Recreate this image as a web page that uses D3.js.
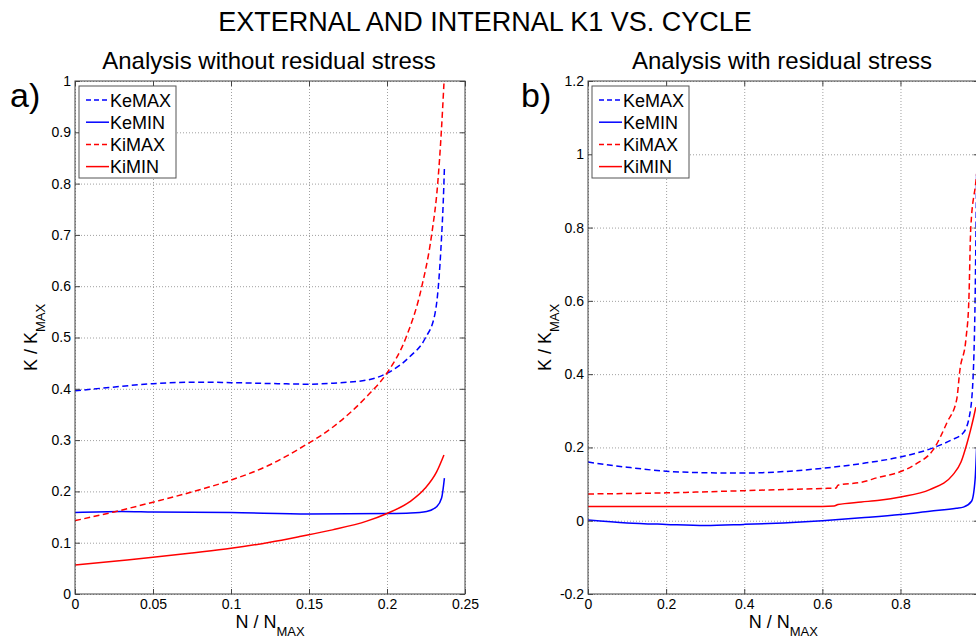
<!DOCTYPE html>
<html>
<head>
<meta charset="utf-8">
<script src="https://cdn.jsdelivr.net/npm/d3@7"></script>
<style>
body{margin:0;background:#fff;overflow:hidden;}
svg{display:block;font-family:"Liberation Sans",Arial,Helvetica,sans-serif;}
.grid line{stroke:#a0a0a0;stroke-dasharray:1,2;}
.grid path{display:none;}
.ax path{display:none;}
.ax line{stroke:#444;}
.ax text{fill:#000;font-size:14px;}
</style>
</head>
<body>
<svg id="chart" width="976" height="644"></svg>
<script>
//series names, same for both panels
var seriesNames = ["KeMAX", "KeMIN", "KiMAX", "KiMIN"];
var seriesColors = ["#0000ff", "#0000ff", "#ff0000", "#ff0000"];
var seriesDashed = [true, false, true, false];

//a) without residual stress (read from the picture)
var aKeMaxN = [0, 0.02, 0.05, 0.08, 0.1, 0.13, 0.15, 0.1656, 0.187, 0.1998, 0.2147, 0.2244, 0.2308, 0.2329, 0.235, 0.236, 0.2368];
var aKeMaxK = [0.396, 0.402, 0.410, 0.413, 0.412, 0.410, 0.409, 0.411, 0.417, 0.430, 0.463, 0.498, 0.547, 0.599, 0.697, 0.76, 0.830];
var aKeMinN = [0, 0.03, 0.05, 0.1, 0.15, 0.2, 0.215, 0.2254, 0.2318, 0.235, 0.2368];
var aKeMinK = [0.159, 0.161, 0.160, 0.159, 0.156, 0.157, 0.158, 0.161, 0.170, 0.187, 0.226];
var aKiMaxN = [0, 0.025, 0.05, 0.075, 0.1, 0.125, 0.1442, 0.1656, 0.187, 0.1998, 0.2122, 0.2222, 0.2286, 0.2325, 0.2348, 0.2365];
var aKiMaxK = [0.143, 0.160, 0.179, 0.199, 0.222, 0.252, 0.284, 0.326, 0.385, 0.430, 0.500, 0.598, 0.700, 0.800, 0.900, 0.995];
var aKiMinN = [0, 0.025, 0.05, 0.075, 0.1, 0.125, 0.144, 0.165, 0.187, 0.2, 0.2147, 0.2244, 0.2318, 0.2365];
var aKiMinK = [0.0565, 0.064, 0.0715, 0.080, 0.089, 0.101, 0.112, 0.125, 0.142, 0.157, 0.180, 0.206, 0.238, 0.271];

//b) with residual stress
var bKeMaxN = [0, 0.1, 0.2, 0.3, 0.4, 0.5, 0.6, 0.7, 0.8, 0.884, 0.93, 0.961, 0.978, 0.987, 0.991, 0.995];
var bKeMaxK = [0.160, 0.146, 0.135, 0.131, 0.130, 0.134, 0.143, 0.156, 0.174, 0.199, 0.220, 0.240, 0.294, 0.420, 0.600, 0.950];
var bKeMinN = [0, 0.1, 0.2, 0.3, 0.4, 0.5, 0.6, 0.7, 0.8, 0.875, 0.943, 0.961, 0.982, 0.991, 0.995];
var bKeMinK = [0.002, -0.006, -0.010, -0.013, -0.010, -0.006, 0.0, 0.008, 0.017, 0.026, 0.034, 0.037, 0.053, 0.112, 0.200];
var bKiMaxN = [0, 0.2, 0.4, 0.6, 0.635, 0.64, 0.7, 0.746, 0.79, 0.84, 0.884, 0.92, 0.944, 0.952, 0.968, 0.975, 0.98, 0.993, 1.0];
var bKiMaxK = [0.073, 0.076, 0.082, 0.088, 0.089, 0.097, 0.105, 0.119, 0.130, 0.155, 0.194, 0.270, 0.331, 0.410, 0.500, 0.600, 0.800, 0.925, 1.0];
var bKiMinN = [0, 0.3, 0.6, 0.63, 0.64, 0.7, 0.746, 0.8, 0.875, 0.934, 0.955, 0.97, 0.98, 0.987, 0.993];
var bKiMinK = [0.039, 0.039, 0.039, 0.040, 0.044, 0.051, 0.056, 0.065, 0.085, 0.125, 0.160, 0.210, 0.250, 0.281, 0.310];

//ticks
var aXTicks = [0, 0.05, 0.1, 0.15, 0.2, 0.25];
var aXLabels = ["0", "0.05", "0.1", "0.15", "0.2", "0.25"];
var aYTicks = [0, 0.1, 0.2, 0.3, 0.4, 0.5, 0.6, 0.7, 0.8, 0.9, 1];
var aYLabels = ["0", "0.1", "0.2", "0.3", "0.4", "0.5", "0.6", "0.7", "0.8", "0.9", "1"];
var bXTicks = [0, 0.2, 0.4, 0.6, 0.8];
var bXLabels = ["0", "0.2", "0.4", "0.6", "0.8"];
var bYTicks = [-0.2, 0, 0.2, 0.4, 0.6, 0.8, 1, 1.2];
var bYLabels = ["-0.2", "0", "0.2", "0.4", "0.6", "0.8", "1", "1.2"];

var svg = d3.select("#chart");

svg.append("text")
    .attr("x", 485).attr("y", 31)
    .attr("text-anchor", "middle")
    .style("font-size", "27px")
    .text("EXTERNAL AND INTERNAL K1 VS. CYCLE");

function zip(ns, ks){
    return ns.map(function(n, i){ return [n, ks[i]]; });
}

function drawPanel(p){
    var x = d3.scaleLinear().domain(p.xDomain).range([p.left, p.right]);
    var y = d3.scaleLinear().domain(p.yDomain).range([p.bottom, p.top]);
    var w = p.right - p.left, h = p.bottom - p.top;
    var g = svg.append("g");

    g.append("text")
        .attr("x", p.titleX).attr("y", 69)
        .attr("text-anchor", "middle")
        .style("font-size", "24px")
        .text(p.title);

    g.append("text")
        .attr("x", p.letterX).attr("y", 107)
        .style("font-size", "34px")
        .text(p.letter);

    //grid
    g.append("g").attr("class", "grid")
        .attr("transform", "translate(0," + p.bottom + ")")
        .call(d3.axisBottom(x).tickValues(p.xTicks).tickSize(-h).tickFormat(""));
    g.append("g").attr("class", "grid")
        .attr("transform", "translate(" + p.left + ",0)")
        .call(d3.axisLeft(y).tickValues(p.yTicks).tickSize(-w).tickFormat(""));

    //curves
    var clipId = "clip" + p.letter.charAt(0);
    g.append("clipPath").attr("id", clipId)
        .append("rect").attr("x", p.left).attr("y", p.top).attr("width", w).attr("height", h);
    var line = d3.line()
        .x(function(d){ return x(d[0]); })
        .y(function(d){ return y(d[1]); })
        .curve(d3.curveMonotoneX);
    p.series.forEach(function(s, i){
        g.append("path")
            .attr("d", line(s))
            .attr("fill", "none")
            .attr("stroke", seriesColors[i])
            .attr("stroke-width", 1.5)
            .attr("stroke-dasharray", seriesDashed[i] ? "6,3.5" : null)
            .attr("clip-path", "url(#" + clipId + ")");
    });

    //box + inward ticks on all four sides
    g.append("rect")
        .attr("x", p.left).attr("y", p.top).attr("width", w).attr("height", h)
        .attr("fill", "none").attr("stroke", "#444");
    g.append("g").attr("class", "ax")
        .attr("transform", "translate(0," + p.bottom + ")")
        .call(d3.axisBottom(x).tickValues(p.xTicks).tickSize(-5).tickPadding(5)
            .tickFormat(function(d, i){ return p.xLabels[i]; }));
    g.append("g").attr("class", "ax")
        .attr("transform", "translate(0," + p.top + ")")
        .call(d3.axisTop(x).tickValues(p.xTicks).tickSize(-5).tickFormat(""));
    g.append("g").attr("class", "ax")
        .attr("transform", "translate(" + p.left + ",0)")
        .call(d3.axisLeft(y).tickValues(p.yTicks).tickSize(-5).tickPadding(4)
            .tickFormat(function(d, i){ return p.yLabels[i]; }));
    g.append("g").attr("class", "ax")
        .attr("transform", "translate(" + p.right + ",0)")
        .call(d3.axisRight(y).tickValues(p.yTicks).tickSize(-5).tickFormat(""));

    //axis labels
    var xl = g.append("text")
        .attr("x", (p.left + p.right)/2).attr("y", 628)
        .attr("text-anchor", "middle")
        .style("font-size", "18px");
    xl.append("tspan").text("N / N");
    xl.append("tspan").attr("dy", 8).style("font-size", "13px").text("MAX");

    var yl = g.append("text")
        .attr("transform", "translate(" + p.yLabelX + "," + (p.top + p.bottom)/2 + ") rotate(-90)")
        .attr("text-anchor", "middle")
        .style("font-size", "18px");
    yl.append("tspan").text("K / K");
    yl.append("tspan").attr("dy", 8).style("font-size", "13px").text("MAX");

    //legend
    var lg = g.append("g").attr("transform", "translate(" + p.legendX + "," + 86 + ")");
    lg.append("rect").attr("width", 97).attr("height", 92)
        .attr("fill", "#fff").attr("stroke", "#555");
    seriesNames.forEach(function(name, i){
        var yy = 14 + i*22.2;
        lg.append("line")
            .attr("x1", 7).attr("x2", 30).attr("y1", yy).attr("y2", yy)
            .attr("stroke", seriesColors[i]).attr("stroke-width", 1.5)
            .attr("stroke-dasharray", seriesDashed[i] ? "5,3" : null);
        lg.append("text")
            .attr("x", 31).attr("y", yy + 6.5)
            .style("font-size", "18px")
            .text(name);
    });
}

drawPanel({
    title: "Analysis without residual stress", titleX: 269, letter: "a)", letterX: 10,
    left: 75, right: 465, top: 81, bottom: 594,
    xDomain: [0, 0.25], yDomain: [0, 1],
    xTicks: aXTicks, xLabels: aXLabels, yTicks: aYTicks, yLabels: aYLabels,
    yLabelX: 37, legendX: 79,
    series: [zip(aKeMaxN, aKeMaxK), zip(aKeMinN, aKeMinK), zip(aKiMaxN, aKiMaxK), zip(aKiMinN, aKiMinK)]
});

drawPanel({
    title: "Analysis with residual stress", titleX: 782, letter: "b)", letterX: 521,
    left: 588, right: 978.6, top: 81, bottom: 594,
    xDomain: [0, 1], yDomain: [-0.2, 1.2],
    xTicks: bXTicks, xLabels: bXLabels, yTicks: bYTicks, yLabels: bYLabels,
    yLabelX: 551, legendX: 592,
    series: [zip(bKeMaxN, bKeMaxK), zip(bKeMinN, bKeMinK), zip(bKiMaxN, bKiMaxK), zip(bKiMinN, bKiMinK)]
});
</script>
</body>
</html>
